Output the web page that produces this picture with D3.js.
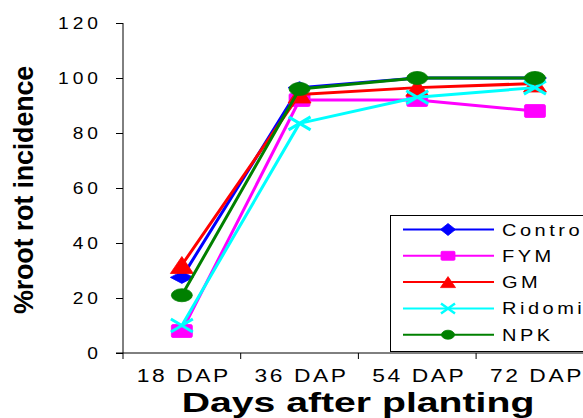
<!DOCTYPE html>
<html>
<head>
<meta charset="utf-8">
<script src="https://cdn.jsdelivr.net/npm/d3@7"></script>
<style>
  html, body { margin: 0; padding: 0; background: #fff; overflow: hidden; }
  svg { display: block; font-family: Arial, "Liberation Sans", sans-serif; }
</style>
</head>
<body>
<svg id="chart" width="583" height="418"></svg>
<script>
// Root rot incidence over time for each soil treatment
const categories = ["18 DAP", "36 DAP", "54 DAP", "72 DAP"];
const seriesNames = ["Control", "FYM", "GM", "Ridomil", "NPK"];
const control = [27.5, 96.5, 100, 100];
const fym     = [8, 92, 92, 88];
const gm      = [32, 94, 96.5, 98];
const ridomil = [10, 83.5, 93, 96.5];
const npk     = [21, 96, 100, 100];
const yTicks  = [0, 20, 40, 60, 80, 100, 120];
const colors  = ["#0000FF", "#FF00FF", "#FF0000", "#00FFFF", "#008000"];
const shapes  = ["diamond", "square", "triangle", "cross", "circle"];

const series = seriesNames.map((name, i) => ({
  name, color: colors[i], shape: shapes[i],
  values: [control, fym, gm, ridomil, npk][i]
}));

const svg = d3.select("#chart");
const plotLeft = 123, plotTop = 23, plotBottom = 353, band = 117.7;

const x = d3.scaleBand().domain(categories).range([plotLeft, plotLeft + band * categories.length]);
const y = d3.scaleLinear().domain([0, 120]).range([plotBottom, plotTop]);
const cx = c => x(c) + x.bandwidth() / 2;

// Marker outlines, w/h = full width/height
function markerPath(shape, w, h) {
  const a = w / 2, b = h / 2;
  switch (shape) {
    case "diamond": return `M0,${-b}L${a},0L0,${b}L${-a},0Z`;
    case "square": {
      const r = Math.min(a, b) * 0.25;
      return `M${-a + r},${-b}H${a - r}Q${a},${-b} ${a},${-b + r}V${b - r}Q${a},${b} ${a - r},${b}H${-a + r}Q${-a},${b} ${-a},${b - r}V${-b + r}Q${-a},${-b} ${-a + r},${-b}Z`;
    }
    case "triangle": return `M0,${-b}L${a},${b}L${-a},${b}Z`;
    case "circle": return `M${-a},0A${a},${b} 0 1,0 ${a},0A${a},${b} 0 1,0 ${-a},0Z`;
    case "cross": return `M${-a},${-b}L${a},${b}M${-a},${b}L${a},${-b}`;
  }
}
const sizes = {
  diamond: [23, 12], square: [21, 13], triangle: [23, 17], circle: [21, 13], cross: [22, 13]
};
const legendSizes = {
  diamond: [15, 12], square: [14, 9], triangle: [15, 11], circle: [13, 9], cross: [14, 10]
};

function drawMarker(g, shape, color, w, h, px, py, sw) {
  const p = g.append("path")
    .attr("d", markerPath(shape, w, h))
    .attr("transform", `translate(${px},${py})`);
  if (shape === "cross") {
    p.attr("fill", "none").attr("stroke", color).attr("stroke-width", sw);
  } else {
    p.attr("fill", color).attr("stroke", color).attr("stroke-width", 0.8);
  }
}

// Wide, loosely spaced label text: horizontal scale s, spacing ls in screen px
function wideText(sel, s, ls) {
  return sel.attr("letter-spacing", ls / s);
}

// Axes
const yAxis = d3.axisLeft(y).tickValues(yTicks).tickSize(7).tickFormat("");
svg.append("g").attr("transform", `translate(${plotLeft},0)`).call(yAxis)
  .call(g => g.select(".domain").attr("d", `M0,${plotTop}V${plotBottom}`).attr("stroke", "#000"))
  .call(g => g.selectAll(".tick line").attr("stroke", "#000"));

svg.append("line").attr("x1", 116).attr("x2", 583).attr("y1", plotBottom).attr("y2", plotBottom)
  .attr("stroke", "#000");
svg.append("g").selectAll("line").data(categories).join("line")
  .attr("x1", d => x(d)).attr("x2", d => x(d))
  .attr("y1", plotBottom).attr("y2", plotBottom + 6).attr("stroke", "#000");

// Y tick labels
svg.append("g").selectAll("text").data(yTicks).join("text")
  .attr("transform", d => `translate(102,${y(d) + 5.5}) scale(1.2,1)`)
  .attr("text-anchor", "end")
  .attr("font-size", 16)
  .call(wideText, 1.2, 4)
  .text(d => d);

// X tick labels
svg.append("g").selectAll("text").data(categories).join("text")
  .attr("transform", d => `translate(${cx(d) + 2},382) scale(1.2,1)`)
  .attr("text-anchor", "middle")
  .attr("font-size", 19)
  .call(wideText, 1.2, 2.6)
  .text(d => d);

// Axis titles
svg.append("text")
  .attr("transform", "translate(358,412) scale(1.4,1)")
  .attr("text-anchor", "middle")
  .attr("font-size", 28).attr("font-weight", "bold")
  .text("Days after planting");

svg.append("text")
  .attr("transform", "translate(33,190) rotate(-90)")
  .attr("text-anchor", "middle")
  .attr("font-size", 27).attr("font-weight", "bold")
  .attr("letter-spacing", -0.2)
  .text("%root rot incidence");

// Series lines and markers
const line = d3.line().x((d, i) => cx(categories[i])).y(d => y(d));
series.forEach(s => {
  const g = svg.append("g");
  g.append("path").attr("d", line(s.values))
    .attr("fill", "none").attr("stroke", s.color).attr("stroke-width", 3)
    .attr("stroke-linejoin", "round");
  const [w, h] = sizes[s.shape];
  s.values.forEach((v, i) => drawMarker(g, s.shape, s.color, w, h, cx(categories[i]), y(v), 3));
});

// Legend
const lg = svg.append("g");
lg.append("rect").attr("x", 390.5).attr("y", 215.5).attr("width", 220).attr("height", 136)
  .attr("fill", "#fff").attr("stroke", "#000").attr("stroke-width", 1);
series.forEach((s, i) => {
  const ly = 229.5 + i * 26.3;
  lg.append("line").attr("x1", 403).attr("x2", 494).attr("y1", ly).attr("y2", ly)
    .attr("stroke", s.color).attr("stroke-width", 2);
  const [w, h] = legendSizes[s.shape];
  drawMarker(lg, s.shape, s.color, w, h, 448, ly, 2.5);
  lg.append("text")
    .attr("transform", `translate(502,${ly + 6}) scale(1.25,1)`)
    .attr("font-size", 16)
    .call(wideText, 1.25, 3.5)
    .text(s.name);
});
</script>
</body>
</html>
